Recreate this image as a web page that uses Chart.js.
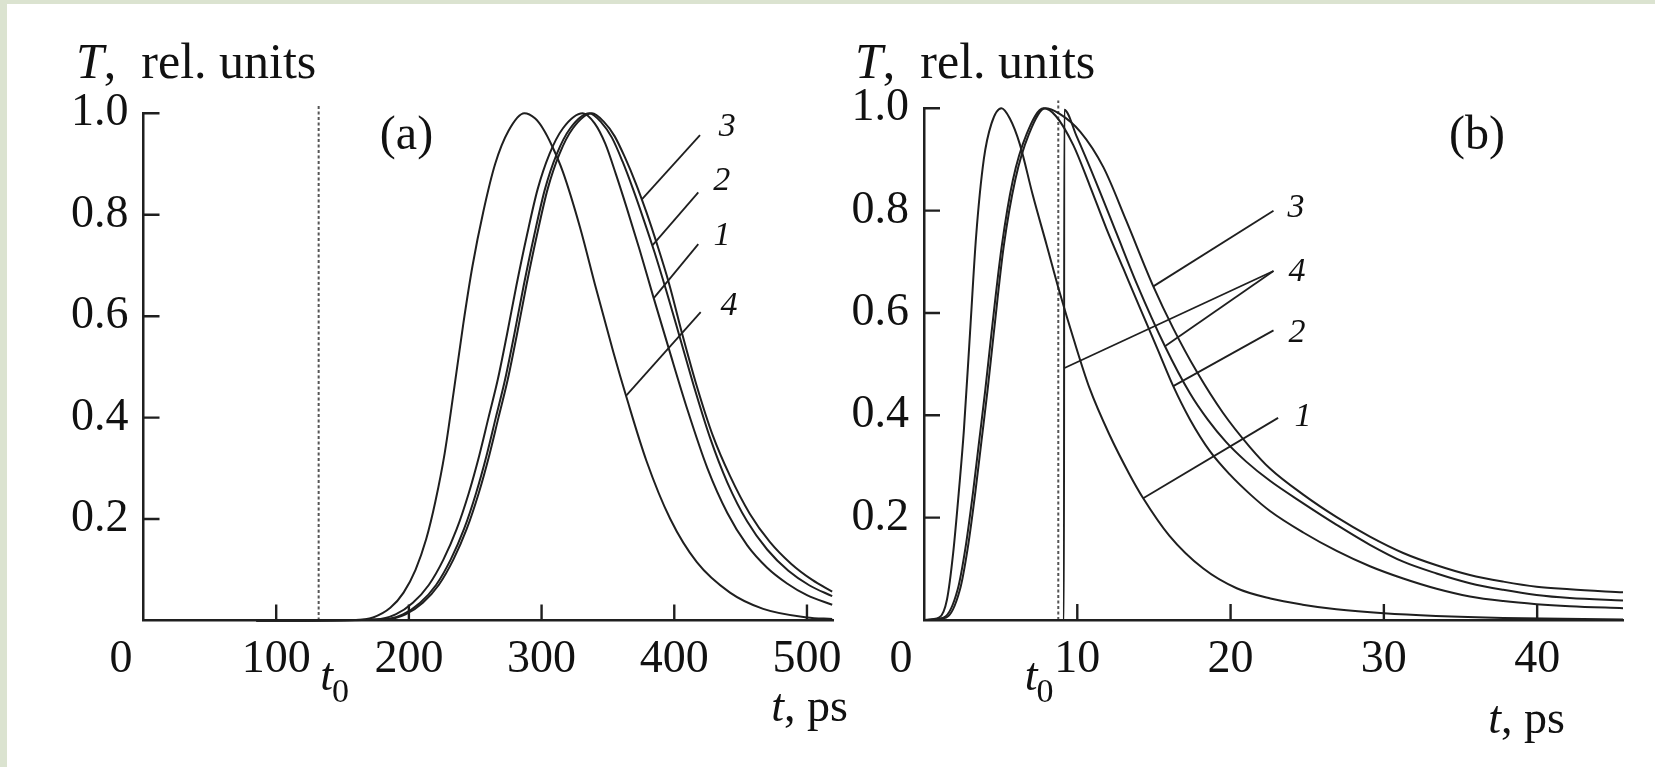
<!DOCTYPE html>
<html>
<head>
<meta charset="utf-8">
<script src="https://cdn.jsdelivr.net/npm/chart.js@4.4.1/dist/chart.umd.min.js"></script>
<style>
  html, body { margin: 0; padding: 0; background: #fff; }
  body { width: 1655px; height: 767px; position: relative; overflow: hidden; }
  #frameTop { position: absolute; left: 0; top: 0; width: 1655px; height: 4px; background: #dbe3d0; }
  #frameLeft { position: absolute; left: 0; top: 0; width: 7px; height: 767px; background: #dbe3d0; }
  canvas { position: absolute; top: 0; }
  #panelA { left: 0; }
  #panelB { left: 840px; }
</style>
</head>
<body>
<div id="frameTop"></div>
<div id="frameLeft"></div>
<canvas id="panelA" width="860" height="767"></canvas>
<canvas id="panelB" width="815" height="767"></canvas>
<script>
const INK = '#1f1f1f';
const TEXT = '#111';
const SERIF = '"Liberation Serif", "Times New Roman", serif';

// axes
const yTicks = [0.2, 0.4, 0.6, 0.8, 1.0];
const xTicksA = [0, 100, 200, 300, 400, 500];
const xTicksB = [0, 10, 20, 30, 40];
const t0A = 132;
const t0B = 8.76;

// ---- panel (a): t in ps, T in rel. units ----
const tA1 = [85, 175, 190, 203, 215, 226, 236, 245, 253, 260, 267, 274, 281, 289, 297, 306, 316, 331, 340, 348, 356, 364, 374, 384, 396, 410, 425, 440, 455, 470, 485, 500, 519];
const TA1 = [0, 0.002, 0.012, 0.035, 0.07, 0.12, 0.18, 0.25, 0.325, 0.4, 0.475, 0.565, 0.66, 0.76, 0.85, 0.92, 0.97, 1.0, 0.98, 0.94, 0.88, 0.815, 0.73, 0.64, 0.535, 0.415, 0.3, 0.212, 0.148, 0.104, 0.073, 0.05, 0.031];

const tA2 = [85, 180.5, 195.5, 208.5, 220.5, 231.5, 241.5, 250.5, 258.5, 265.5, 272.5, 279.5, 286.5, 294.5, 302.5, 311.5, 321.5, 336, 345, 353, 361, 369, 377, 385, 394, 404, 415, 427, 440, 455, 470, 486, 502, 519];
const TA2 = [0, 0.002, 0.012, 0.035, 0.07, 0.12, 0.18, 0.25, 0.325, 0.4, 0.475, 0.565, 0.66, 0.76, 0.85, 0.92, 0.97, 1.0, 0.982, 0.952, 0.905, 0.85, 0.79, 0.727, 0.65, 0.56, 0.46, 0.36, 0.272, 0.195, 0.14, 0.098, 0.069, 0.048];

const tA3 = [85, 182.5, 197.5, 210.5, 222.5, 233.5, 243.5, 252.5, 260.5, 267.5, 274.5, 281.5, 288.5, 296.5, 304.5, 313.5, 323.5, 338, 347, 355, 363, 371, 379, 387, 396, 406, 417, 429, 442, 457, 472, 488, 504, 519];
const TA3 = [0, 0.002, 0.012, 0.035, 0.07, 0.12, 0.18, 0.25, 0.325, 0.4, 0.475, 0.565, 0.66, 0.76, 0.85, 0.92, 0.97, 1.0, 0.983, 0.955, 0.912, 0.862, 0.805, 0.742, 0.665, 0.565, 0.462, 0.365, 0.285, 0.21, 0.155, 0.112, 0.08, 0.057];

const tA4 = [85, 160, 173, 186, 196, 205, 213, 220, 227, 234, 241, 248, 256, 265, 275, 287, 295, 301, 308, 316, 329, 341, 354, 364, 379, 397, 417, 442, 467, 500, 519];
const TA4 = [0, 0.001, 0.006, 0.025, 0.055, 0.1, 0.16, 0.235, 0.33, 0.455, 0.585, 0.7, 0.805, 0.9, 0.965, 1.0, 0.99, 0.97, 0.935, 0.885, 0.775, 0.655, 0.53, 0.44, 0.315, 0.2, 0.115, 0.055, 0.023, 0.006, 0.003];

// ---- panel (b) ----
const tB1 = [0, 1.0, 1.5, 1.9, 2.3, 2.6, 3.0, 3.4, 3.9, 4.4, 5.05, 5.6, 6.25, 7.1, 8.0, 8.9, 9.75, 10.8, 12.1, 13.4, 14.3, 16.0, 18.2, 20.4, 22.6, 24.7, 26.9, 30.0, 33.4, 37.8, 45.6];
const TB1 = [0, 0.005, 0.04, 0.13, 0.26, 0.37, 0.56, 0.75, 0.9, 0.97, 1.0, 0.98, 0.93, 0.83, 0.733, 0.635, 0.55, 0.453, 0.362, 0.285, 0.238, 0.165, 0.101, 0.062, 0.042, 0.03, 0.021, 0.013, 0.0078, 0.0039, 0.001];

const tB2 = [0, 1.3, 2.2, 2.7, 3.2, 3.6, 4.0, 4.4, 5.07, 5.8, 6.7, 7.8, 8.6, 9.74, 10.8, 11.9, 13.0, 14.1, 15.2, 16.26, 17.35, 18.65, 19.96, 21.3, 22.57, 24.74, 26.92, 29.09, 31.26, 33.44, 35.61, 37.79, 39.96, 42.13, 45.6];
const TB2 = [0, 0.005, 0.06, 0.14, 0.25, 0.35, 0.45, 0.56, 0.73, 0.86, 0.95, 1.0, 0.985, 0.928, 0.85, 0.765, 0.687, 0.609, 0.532, 0.457, 0.392, 0.33, 0.284, 0.245, 0.213, 0.171, 0.135, 0.105, 0.081, 0.061, 0.046, 0.037, 0.031, 0.027, 0.023];

const tB3 = [0, 1.45, 2.35, 2.85, 3.35, 3.75, 4.15, 4.55, 5.2, 5.95, 6.85, 7.9, 8.8, 10.2, 11.7, 13.2, 14.96, 16.26, 17.8, 19.5, 21.26, 22.57, 24.74, 26.92, 29.09, 31.26, 33.44, 35.61, 37.79, 39.96, 42.13, 45.6];
const TB3 = [0, 0.005, 0.06, 0.14, 0.25, 0.35, 0.45, 0.56, 0.73, 0.86, 0.95, 1.0, 0.99, 0.954, 0.885, 0.78, 0.652, 0.57, 0.485, 0.405, 0.338, 0.296, 0.245, 0.201, 0.163, 0.131, 0.107, 0.088, 0.075, 0.065, 0.06, 0.054];

// curve 4 is switched on at t0
const tB4 = [0, 9.13, 9.15, 9.96, 11.26, 12.57, 13.87, 15.72, 17.35, 18.5, 19.7, 21.0, 22.57, 24.74, 26.92, 29.09, 31.26, 33.44, 35.61, 37.79, 39.96, 42.13, 45.6];
const TB4 = [0, 0, 0.997, 0.945, 0.853, 0.755, 0.658, 0.535, 0.443, 0.392, 0.348, 0.31, 0.272, 0.228, 0.186, 0.147, 0.114, 0.091, 0.072, 0.059, 0.049, 0.043, 0.038];

// leader lines (data units) and curve numbers
const leadersA = [
  [[419.4, 0.957], [375.4, 0.83]],
  [[418.1, 0.844], [383.7, 0.74]],
  [[418.1, 0.742], [384.7, 0.636]],
  [[419.9, 0.608], [363.6, 0.443]]
];
const numbersA = [['3', 440, 0.973], ['2', 435.7, 0.867], ['1', 435.9, 0.757], ['4', 441.2, 0.62]];

const leadersB = [
  [[22.8, 0.80], [14.96, 0.652]],
  [[22.8, 0.682], [9.13, 0.492]],
  [[22.8, 0.682], [15.72, 0.535]],
  [[22.8, 0.566], [16.26, 0.457]],
  [[23.1, 0.395], [14.3, 0.238]]
];
const numbersB = [['3', 24.27, 0.805], ['4', 24.33, 0.68], ['2', 24.33, 0.561], ['1', 24.72, 0.397]];

function pts(ts, vs) { return ts.map((t, i) => ({ x: t, y: vs[i] })); }

function curve(ts, vs) {
  return { data: pts(ts, vs), borderColor: INK, borderWidth: 2, pointRadius: 0,
           cubicInterpolationMode: 'monotone', fill: false, clip: false };
}

function leader(p) {
  return { data: p.map(([x, y]) => ({ x, y })), borderColor: INK, borderWidth: 1.8,
           pointRadius: 0, tension: 0, fill: false, clip: false };
}

function t0Line(t0) {
  return { data: [{ x: t0, y: 0 }, { x: t0, y: 1.015 }], borderColor: '#555', borderWidth: 2,
           borderDash: [3, 2.5], pointRadius: 0, tension: 0, fill: false, clip: false };
}

// inward ticks, texts
const annot = {
  id: 'annot',
  afterDatasetsDraw(chart, args, o) {
    const { ctx, chartArea: ca, scales: { x, y } } = chart;
    ctx.save();
    ctx.strokeStyle = INK;
    ctx.lineWidth = 2.4;
    ctx.beginPath();
    x.ticks.forEach(tk => {
      if (tk.value === 0) return;
      const px = x.getPixelForValue(tk.value);
      ctx.moveTo(px, ca.bottom);
      ctx.lineTo(px, ca.bottom - 16);
    });
    y.ticks.forEach(tk => {
      const py = y.getPixelForValue(tk.value);
      ctx.moveTo(ca.left, py);
      ctx.lineTo(ca.left + 16, py);
    });
    ctx.stroke();

    ctx.fillStyle = TEXT;
    ctx.textAlign = 'center';
    ctx.textBaseline = 'middle';
    ctx.font = 'italic 34px ' + SERIF;
    o.numbers.forEach(([s, t, v]) => ctx.fillText(s, x.getPixelForValue(t), y.getPixelForValue(v)));
    ctx.font = '48px ' + SERIF;
    ctx.fillText(o.letter[0], x.getPixelForValue(o.letter[1]), y.getPixelForValue(o.letter[2]));

    // origin 0
    ctx.font = '46px ' + SERIF;
    ctx.fillText('0', ca.left + o.zeroDx, ca.bottom + 12 + 27.6);

    // y title
    ctx.textAlign = 'left';
    ctx.textBaseline = 'alphabetic';
    let tx = ca.left + o.yTitle[0], ty = ca.top + o.yTitle[1];
    ctx.font = 'italic 50px ' + SERIF;
    ctx.fillText('T', tx, ty);
    tx += ctx.measureText('T').width;
    ctx.font = '50px ' + SERIF;
    ctx.fillText(',  rel. units', tx, ty);

    // x title, right aligned
    ctx.font = 'italic 46px ' + SERIF;
    const wt = ctx.measureText('t').width;
    ctx.font = '46px ' + SERIF;
    const wr = ctx.measureText(', ps').width;
    let ex = ca.right + o.xTitle[0] - wt - wr, ey = ca.bottom + o.xTitle[1];
    ctx.font = 'italic 46px ' + SERIF;
    ctx.fillText('t', ex, ey);
    ctx.font = '46px ' + SERIF;
    ctx.fillText(', ps', ex + wt, ey);

    // t0 mark
    let sx = x.getPixelForValue(o.t0) + o.t0Label[0], sy = ca.bottom + o.t0Label[1];
    ctx.font = 'italic 46px ' + SERIF;
    ctx.fillText('t', sx, sy);
    sx += ctx.measureText('t').width - 1;
    ctx.font = '34px ' + SERIF;
    ctx.fillText('0', sx, sy + 12);
    ctx.restore();
  }
};

function makePanel(id, p) {
  return new Chart(document.getElementById(id), {
    type: 'line',
    data: { datasets: p.datasets },
    options: {
      responsive: false,
      animation: false,
      devicePixelRatio: 1,
      events: [],
      layout: { padding: { left: 0, top: p.top, right: p.right, bottom: 0 } },
      plugins: {
        legend: { display: false },
        tooltip: { enabled: false },
        annot: p.annot
      },
      scales: {
        x: {
          type: 'linear', min: 0, max: p.xMax,
          border: { display: true, color: INK, width: 2.5 },
          grid: { display: false, drawTicks: false },
          afterBuildTicks: s => { s.ticks = p.xTicks.map(v => ({ value: v })); },
          afterFit: s => { s.height = p.xAxisH; },
          ticks: { autoSkip: false, maxRotation: 0, padding: 12, color: TEXT,
                   font: { family: SERIF, size: 46 },
                   callback: v => (v === 0 ? '' : String(v)) }
        },
        y: {
          type: 'linear', min: 0, max: 1,
          border: { display: true, color: INK, width: 2.5 },
          grid: { display: false, drawTicks: false },
          afterBuildTicks: s => { s.ticks = yTicks.map(v => ({ value: v })); },
          afterFit: s => { s.width = p.yAxisW; },
          ticks: { padding: 15, color: TEXT, font: { family: SERIF, size: 46 },
                   callback: v => v.toFixed(1) }
        }
      }
    },
    plugins: [annot]
  });
}

makePanel('panelA', {
  top: 113.3, right: 26.5, yAxisW: 143.5, xAxisH: 146.5, xMax: 520, xTicks: xTicksA,
  datasets: [
    curve(tA1, TA1), curve(tA2, TA2), curve(tA3, TA3), curve(tA4, TA4),
    t0Line(t0A), ...leadersA.map(leader)
  ],
  annot: { numbers: numbersA, letter: ['(a)', 198.2, 0.955], zeroDx: -22.5,
           yTitle: [-67.5, -35.3], xTitle: [14.5, 100.5], t0: t0A, t0Label: [1.5, 69.5] }
});

makePanel('panelB', {
  top: 108.3, right: 32, yAxisW: 84, xAxisH: 147, xMax: 45.6, xTicks: xTicksB,
  datasets: [
    curve(tB1, TB1), curve(tB2, TB2), curve(tB3, TB3), curve(tB4, TB4),
    t0Line(t0B), ...leadersB.map(leader)
  ],
  annot: { numbers: numbersB, letter: ['(b)', 36.07, 0.946], zeroDx: -23,
           yTitle: [-69, -30.3], xTitle: [-58, 113], t0: t0B, t0Label: [-33.6, 70] }
});
</script>
</body>
</html>
